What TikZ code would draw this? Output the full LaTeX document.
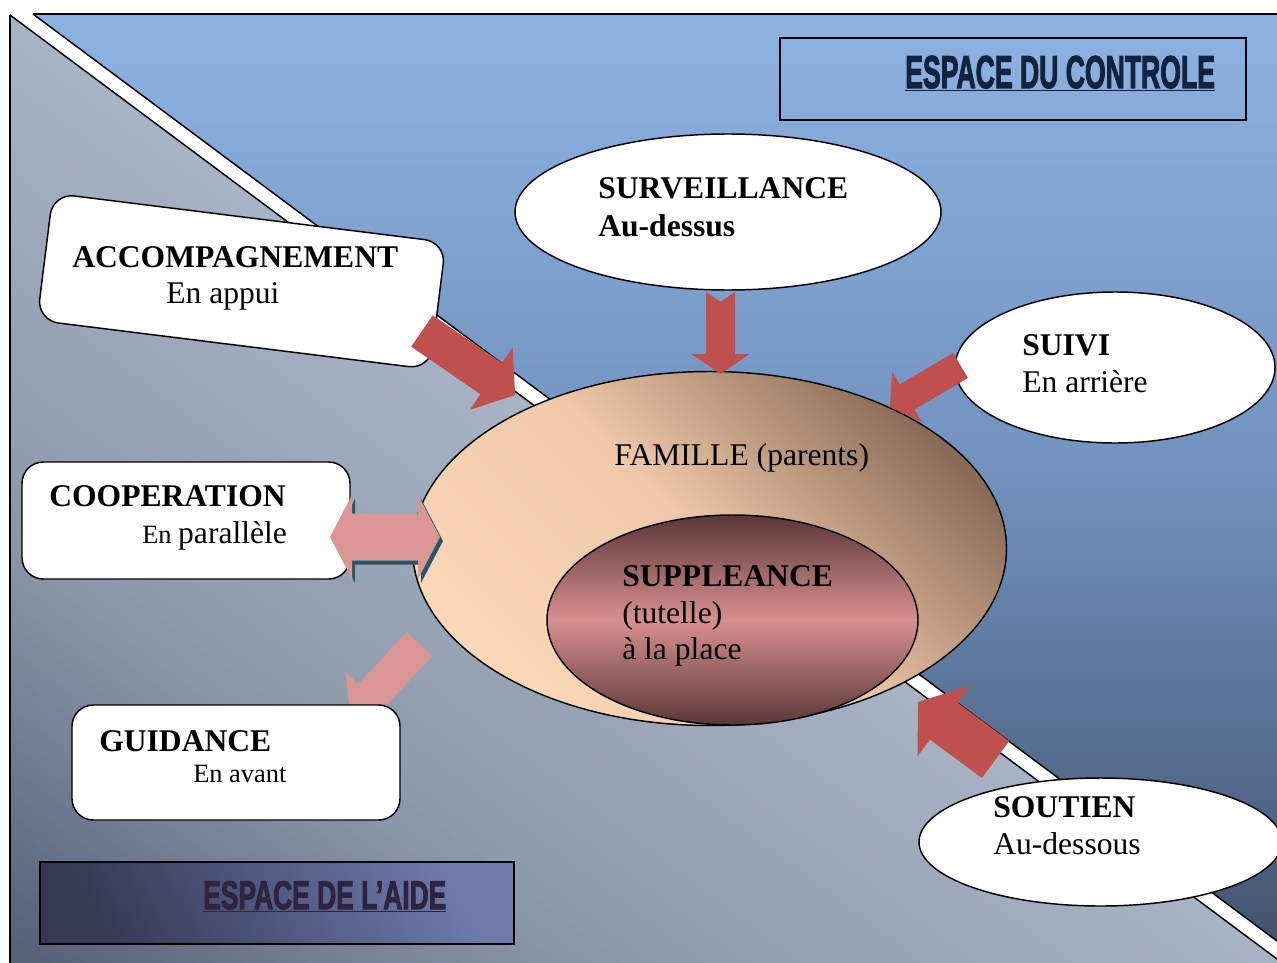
\documentclass[tikz,border=0pt]{standalone}
\usepackage{fontspec}
\usepackage{graphicx}
\setmainfont{Liberation Serif}
\newfontfamily\impactfont[FakeBold=3]{Liberation Sans}
\usetikzlibrary{shapes.geometric}
\definecolor{bluetop}{HTML}{8DB3E2}
\definecolor{bluemid}{HTML}{7191BE}
\definecolor{bluebot}{HTML}{43556F}
\definecolor{greylight}{HTML}{A8B4C4}
\definecolor{greymid}{HTML}{8A97AA}
\definecolor{greydark}{HTML}{56627A}
\definecolor{famdark}{HTML}{8A6B58}
\definecolor{fammid}{HTML}{EFC9A9}
\definecolor{famlight}{HTML}{FCD7B7}
\definecolor{supdark}{HTML}{5A3737}
\definecolor{supmid}{HTML}{D8908F}
\definecolor{aidelight}{HTML}{6D7BAC}
\definecolor{aidedark}{HTML}{353953}
\definecolor{ctrltext}{HTML}{12233F}
\definecolor{aidetext}{HTML}{2F2440}
\definecolor{arrowred}{HTML}{C0504D}
\definecolor{arrowpink}{HTML}{D99694}
\definecolor{coopshadow}{HTML}{215968}
\newcommand{\blockarrow}[9]{%
  \path[#1, shift={(#2,#3)}, rotate=-#4] (0,-#6) -- ({#5-#8},-#6) -- ({#5-#8},-#7) -- (#5,0) -- ({#5-#8},#7) -- ({#5-#8},#6) -- (0,#6) -- (#9,0) -- cycle;}
\tikzset{
  whitebox/.style={rectangle, draw=black, line width=1.1pt, fill=white, rounded corners=16pt, inner sep=0pt},
  whiteell/.style={ellipse, draw=black, line width=1.1pt, fill=white, inner sep=0pt},
  lbl/.style={anchor=base west, inner sep=0pt, font=\fontsize{23.7}{28}\selectfont},
  lblb/.style={anchor=base west, inner sep=0pt, font=\fontsize{23.7}{28}\selectfont\bfseries},
  lbls/.style={anchor=base west, inner sep=0pt, font=\fontsize{19.8}{24}\selectfont},
  redarrow/.style={fill=arrowred},
  pinkarrow/.style={fill=arrowpink},
  frameline/.style={draw=black, line width=1.1pt},
}
\begin{document}
\begin{tikzpicture}[x=0.75pt,y=-0.75pt]
\useasboundingbox (0,0) rectangle (1277,963);
\clip (0,0) rectangle (1277,963);
% background regions
\fill[white] (0,0) rectangle (1277,963);
\shade[top color=bluetop, bottom color=bluebot, middle color=bluemid] (33,14) -- (1277,14) -- (1277,941) -- cycle;
\begin{scope}
  \clip (10,15) -- (1277,959) -- (1277,975) -- (10,975) -- cycle;
  \fill[greydark] (0,0) rectangle (1280,980);
  \begin{scope}[shift={(10,15)}, rotate=-36.68]
    \foreach \k in {0,...,79}{
      \pgfmathsetmacro\bz{\k*9.5}
      \pgfmathtruncatemacro\pa{min(100,\bz/4.2)}
      \pgfmathtruncatemacro\pb{max(0,min(100,(\bz-420)/3.2))}
      \colorlet{stripc}{greymid!\pa!greylight}
      \colorlet{stripc}{greydark!\pb!stripc}
      \fill[stripc] (-200,{\bz-5}) rectangle (1800,{\bz+10});
    }
  \end{scope}
\end{scope}
\draw[frameline] (10,15) -- (1277,959);
\draw[frameline] (33,14) -- (1277,941);
\draw[frameline] (33,14) -- (1280,14);
\draw[frameline] (10,15) -- (10,970);
% space labels
\node[draw=black, line width=1.3pt, minimum width=349.5pt, minimum height=61.5pt, inner sep=0] (ctrlbox) at (1013,79) {};
\node[anchor=base west, inner sep=0, text=ctrltext] (ctrltxt) at (905,88) {\impactfont\bfseries\fontsize{34.5}{36}\selectfont\scalebox{0.578}[1]{\underline{ESPACE DU CONTROLE}}};
\node[draw=black, line width=1.3pt, minimum width=355.5pt, minimum height=61.5pt, inner sep=0, top color=aidelight, bottom color=aidedark, shading angle=-60] (aidebox) at (277,903) {};
\node[anchor=base west, inner sep=0, text=aidetext] (aidetxt) at (203,909) {\impactfont\bfseries\fontsize{30}{32}\selectfont\scalebox{0.66}[1]{\underline{ESPACE DE L’AIDE}}};
% famille and suppleance
\node[ellipse, draw=black, line width=1.1pt, minimum width=445.5pt, minimum height=265.5pt, inner sep=0, top color=famdark, bottom color=famlight, middle color=fammid, shading angle=-45] (fam) at (709.5,548.5) {};
\node[lbl] (famtxt) at (614,465) {FAMILLE (parents)};
\node[ellipse, draw=black, line width=1.1pt, minimum width=278.25pt, minimum height=157.5pt, inner sep=0, top color=supdark, bottom color=supdark, middle color=supmid] (sup) at (732.5,620) {};
\node[lblb] (sup1) at (622,586) {SUPPLEANCE};
\node[lbl] (sup2) at (622,623) {(tutelle)};
\node[lbl] (sup3) at (622,659) {à la place};
% white shapes
\node[whitebox, rotate=-7.1, minimum width=297pt, minimum height=96pt] (acc) at (241.5,281.3) {};
\node[lblb] (acc1) at (72,267) {ACCOMPAGNEMENT};
\node[lbl] (acc2) at (166,303) {En appui};
\node[whiteell, minimum width=319.5pt, minimum height=117pt] (surv) at (728,212) {};
\node[lblb] (surv1) at (598,198) {SURVEILLANCE};
\node[lblb] (surv2) at (598,236) {Au-dessus};
\node[whiteell, minimum width=240pt, minimum height=113.25pt] (suivi) at (1115,367.5) {};
\node[lblb] (suivi1) at (1022,355) {SUIVI};
\node[lbl] (suivi2) at (1022,392) {En arrière};
\node[whitebox, minimum width=246pt, minimum height=87.75pt] (coop) at (186,520.5) {};
\node[lblb] (coop1) at (49,506) {COOPERATION};
\node[anchor=base west, inner sep=0pt] (coop2) at (142,543) {\fontsize{19.8}{24}\selectfont En \fontsize{23.7}{28}\selectfont parallèle};
\node[whiteell, minimum width=272.25pt, minimum height=96pt] (sout) at (1100.5,842) {};
\node[lblb] (sout1) at (993,817) {SOUTIEN};
\node[lbl] (sout2) at (993,854) {Au-dessous};
% arrows
\blockarrow{redarrow}{422}{331}{34.5}{113}{19}{38}{29}{0}
\blockarrow{redarrow}{720.5}{292}{90}{82}{14.5}{29}{20}{10}
\blockarrow{redarrow}{960.5}{365.5}{149.5}{82}{14.5}{29.5}{20}{0}
\blockarrow{redarrow}{995.5}{759.5}{216.6}{96.5}{23}{44}{32}{0}
\path[fill=coopshadow, shift={(3,4)}] (330,537) -- (352,495) -- (352,513.5) -- (418,513.5) -- (418,495) -- (440,537) -- (418,579) -- (418,560.5) -- (352,560.5) -- (352,579) -- cycle;
\path[pinkarrow] (330,537) -- (352,495) -- (352,513.5) -- (418,513.5) -- (418,495) -- (440,537) -- (418,579) -- (418,560.5) -- (352,560.5) -- (352,579) -- cycle;
\blockarrow{pinkarrow}{419.5}{644}{133}{101}{17.5}{35}{30}{0}
% guidance
\node[whitebox, minimum width=246pt, minimum height=86.25pt] (guid) at (236,762.5) {};
\node[lblb] (guid1) at (99,751) {GUIDANCE};
\node[lbls] (guid2) at (193,782) {En avant};
\end{tikzpicture}
\end{document}
